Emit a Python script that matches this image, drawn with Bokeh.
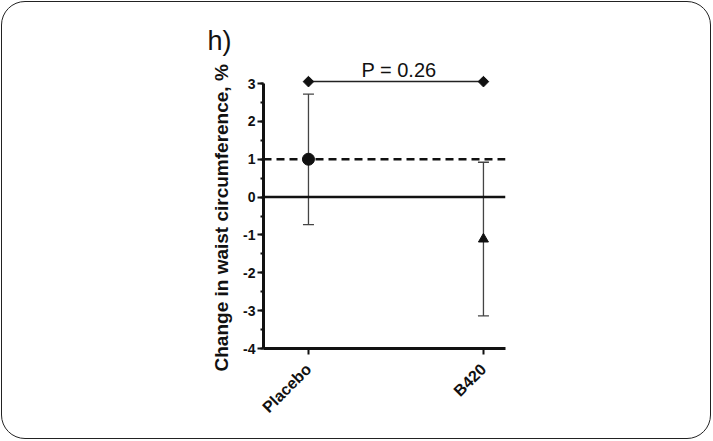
import numpy as np
from bokeh.plotting import figure
from bokeh.models import (ColumnDataSource, Whisker, TeeHead, Span, Title,
                          SingleIntervalTicker, FixedTicker, Range1d, GlobalInlineStyleSheet)
from bokeh.core.properties import value
from bokeh.embed import file_html
from bokeh.resources import INLINE

# ---- data ----
groups = ["Placebo", "B420"]
means = [1.0, -1.11]
upper = [2.72, 0.92]
lower = [-0.73, -3.14]
markers = ["circle", "triangle"]
marker_sizes = [12, 10]
reference_line = 1.0
p_value_text = "P = 0.26"
p_bracket_y = 3.05
panel_label = "h)"
y_label = "Change in waist circumference, %"
y_ticks = [-4, -3, -2, -1, 0, 1, 2, 3]

xs = list(range(len(groups)))

css = """
html,body{margin:0;padding:0;overflow:hidden;}
body::after{content:"";position:fixed;left:1px;top:1px;width:708px;height:436px;
border:1.5px solid #222;border-radius:24px;pointer-events:none;z-index:10;}
"""

p = figure(width=713, height=441, output_backend="svg", toolbar_location=None,
           x_range=Range1d(-0.257, 1.126), y_range=Range1d(-4, 3.74),
           min_border_left=263, min_border_right=208, min_border_top=55,
           min_border_bottom=93)
p.stylesheets = [GlobalInlineStyleSheet(css=css)]
p.outline_line_color = None
p.grid.visible = False
p.background_fill_color = "white"
p.border_fill_color = "white"

# panel label as title
p.title = Title(text=panel_label, align="left", offset=-56, standoff=0,
                text_font="Liberation Sans", text_font_size="27px",
                text_font_style="normal", text_color="#111", vertical_align="bottom")

# axes
for ax in (p.xaxis[0], p.yaxis[0]):
    ax.axis_line_width = 3
    ax.axis_line_color = "#111"
    ax.major_tick_line_color = "#111"
    ax.major_tick_line_width = 2
    ax.minor_tick_line_color = "#111"
    ax.minor_tick_line_width = 2
    ax.major_tick_in = 0
    ax.minor_tick_in = 0
    ax.major_label_text_font = "Liberation Sans"
    ax.major_label_text_font_style = "bold"
    ax.major_label_text_color = "#111"

yax = p.yaxis[0]
yax.ticker = SingleIntervalTicker(interval=1, num_minor_ticks=2)
yax.bounds = (min(y_ticks), max(y_ticks))
yax.major_label_overrides = {t: str(t) for t in y_ticks}
yax.major_tick_out = 6
yax.minor_tick_out = 3
yax.major_label_standoff = 2
yax.major_label_text_font_size = "14px"
# trailing no-break spaces shift the rotated label down to where the original sits
yax.axis_label = y_label + "\u00a0" * 6
yax.axis_label_text_font = "Liberation Sans"
yax.axis_label_text_font_style = "bold"
yax.axis_label_text_font_size = "19px"
yax.axis_label_text_color = "#111"
yax.axis_label_standoff = 8

xax = p.xaxis[0]
xax.ticker = FixedTicker(ticks=xs)
xax.major_label_overrides = {i: g for i, g in zip(xs, groups)}
xax.major_tick_out = 6
xax.minor_tick_out = 0
xax.major_label_orientation = np.pi / 4
xax.major_label_text_font_size = "16px"
xax.major_label_standoff = 12

# reference lines
p.add_layout(Span(location=0, dimension="width", line_color="#111", line_width=2.5))
p.add_layout(Span(location=reference_line, dimension="width", line_color="#111",
                  line_width=2.5, line_dash="8 5"))

# error bars
src = ColumnDataSource(dict(x=xs, mean=means, upper=upper, lower=lower,
                            marker=markers, size=marker_sizes))
p.add_layout(Whisker(source=src, base="x", upper="upper", lower="lower",
                     line_color="#444", line_width=1.3,
                     upper_head=TeeHead(size=11, line_color="#444", line_width=1.3),
                     lower_head=TeeHead(size=11, line_color="#444", line_width=1.3)))
p.scatter("x", "mean", source=src, marker="marker", size="size",
          fill_color="#111", line_color="#111")

# p-value bracket
bx = [xs[0], xs[-1]]
p.line(bx, [p_bracket_y] * 2, line_color="#222", line_width=1.5)
p.scatter(bx, [p_bracket_y] * 2, marker="square", angle=np.pi / 4, size=7.5,
          fill_color="#111", line_color="#111")
p.text(x=[sum(bx) / 2], y=[p_bracket_y], text=[p_value_text], x_offset=3, y_offset=-12,
       text_align="center", text_baseline="alphabetic", text_font=value("Liberation Sans"),
       text_font_size="20px", text_color="#111")

open("out.html", "w").write(file_html(p, INLINE))
